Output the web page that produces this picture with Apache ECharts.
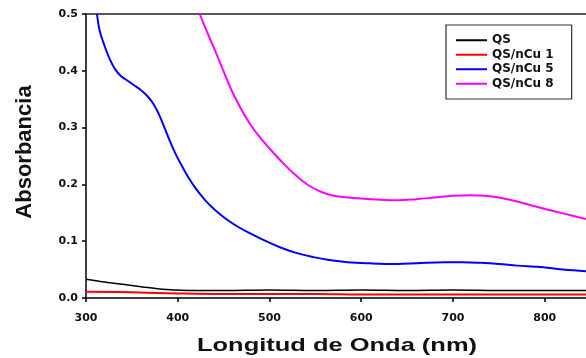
<!DOCTYPE html>
<html>
<head>
<meta charset="utf-8">
<script src="https://cdn.jsdelivr.net/npm/echarts@6/dist/echarts.min.js"></script>
<style>
  html, body { margin: 0; padding: 0; background: #fff; }
  #chart { width: 586px; height: 358px; }
</style>
</head>
<body>
<div id="chart"></div>
<script>
// Absorbancia vs longitud de onda (QS, QS/nCu)

const seriesNames = ['QS', 'QS/nCu 1', 'QS/nCu 5', 'QS/nCu 8'];
const xTicks = [300, 400, 500, 600, 700, 800];
const yTicks = [0.0, 0.1, 0.2, 0.3, 0.4, 0.5];

const qsNm  = [300, 320, 340, 360, 380, 400, 420, 450, 500, 550, 600, 650, 700, 750, 800, 845];
const qsAbs = [0.033, 0.028, 0.024, 0.020, 0.016, 0.014, 0.013, 0.013, 0.014, 0.013, 0.014, 0.013, 0.014, 0.013, 0.013, 0.013];

const cu1Nm  = [300, 350, 400, 450, 500, 550, 600, 650, 700, 750, 800, 845];
const cu1Abs = [0.011, 0.010, 0.008, 0.007, 0.007, 0.007, 0.006, 0.006, 0.006, 0.006, 0.006, 0.006];

const cu5Nm  = [312, 315, 320, 326, 332, 338, 345, 352, 359, 366, 373, 379, 385, 391, 397, 404, 411, 420, 430, 440, 452, 466, 480, 495, 512, 530, 548, 565, 585, 610, 639, 660, 690, 711, 730, 750, 770, 790, 805, 820, 845];
const cu5Abs = [0.500, 0.470, 0.445, 0.420, 0.402, 0.391, 0.383, 0.375, 0.367, 0.357, 0.343, 0.325, 0.302, 0.278, 0.256, 0.234, 0.214, 0.192, 0.172, 0.156, 0.140, 0.125, 0.113, 0.101, 0.089, 0.079, 0.072, 0.067, 0.063, 0.061, 0.060, 0.061, 0.063, 0.063, 0.062, 0.060, 0.057, 0.055, 0.053, 0.050, 0.047];

const cu8Nm  = [424, 431, 440, 449, 458, 468, 479, 491, 503, 515, 528, 542, 556, 570, 585, 600, 621, 639, 660, 680, 700, 719, 735, 750, 770, 790, 805, 820, 845];
const cu8Abs = [0.500, 0.472, 0.438, 0.403, 0.368, 0.336, 0.306, 0.280, 0.258, 0.237, 0.217, 0.199, 0.187, 0.180, 0.177, 0.175, 0.173, 0.172, 0.174, 0.177, 0.180, 0.181, 0.180, 0.177, 0.170, 0.161, 0.155, 0.149, 0.139];

const colors = ['#000000', '#ff0000', '#0000ff', '#ff00ff'];
const widths = [1.5, 2, 2, 2];

const zip = (xs, ys) => xs.map((x, i) => [x, ys[i]]);
const allData = [zip(qsNm, qsAbs), zip(cu1Nm, cu1Abs), zip(cu5Nm, cu5Abs), zip(cu8Nm, cu8Abs)];

const tickFont = { fontFamily: 'DejaVu Sans', fontWeight: 'bold', fontSize: 11, color: '#111' };

const chart = echarts.init(document.getElementById('chart'), null, { renderer: 'canvas' });
chart.setOption({
  animation: false,
  backgroundColor: '#fff',
  grid: { left: 86, right: 0, top: 14, bottom: 60 },
  legend: {
    data: seriesNames,
    orient: 'vertical',
    left: 446,
    top: 25,
    icon: 'rect',
    itemWidth: 31,
    itemHeight: 2,
    itemGap: 0,
    padding: [8, 18, 8, 10],
    borderColor: '#333',
    borderWidth: 1.2,
    selectedMode: false,
    textStyle: { fontFamily: 'DejaVu Sans', fontWeight: 'bold', fontSize: 12, lineHeight: 14.5, color: '#111' }
  },
  xAxis: [
    {
      type: 'value',
      min: xTicks[0],
      max: 845,
      interval: 100,
      axisLine: { show: true, onZero: false, lineStyle: { color: '#000', width: 1.5 } },
      axisTick: { show: true, length: 4, lineStyle: { color: '#000', width: 1.5 } },
      axisLabel: Object.assign({ margin: 15, showMaxLabel: false, showMinLabel: true }, tickFont),
      splitLine: { show: false }
    },
    {
      type: 'value',
      position: 'top',
      min: xTicks[0],
      max: 845,
      interval: 100,
      axisLine: { show: true, onZero: false, lineStyle: { color: '#222', width: 1.5 } },
      axisTick: { show: false },
      axisLabel: { show: false },
      splitLine: { show: false }
    }
  ],
  yAxis: {
    type: 'value',
    min: yTicks[0],
    max: yTicks[yTicks.length - 1],
    interval: 0.1,
    axisLine: { show: true, onZero: false, lineStyle: { color: '#000', width: 1.5 } },
    axisTick: { show: true, length: 4, lineStyle: { color: '#000', width: 1.5 } },
    axisLabel: Object.assign({ margin: 8, formatter: v => v.toFixed(1) }, tickFont),
    splitLine: { show: false }
  },
  graphic: [
    {
      type: 'text',
      x: 25,
      y: 152,
      rotation: Math.PI / 2,
      style: {
        text: 'Absorbancia',
        font: 'bold 22px "Liberation Sans", Arial, sans-serif',
        fill: '#111',
        textAlign: 'center',
        textVerticalAlign: 'middle'
      }
    },
    {
      type: 'text',
      x: 337,
      y: 346,
      scaleX: 1.34,
      style: {
        text: 'Longitud de Onda (nm)',
        font: 'bold 19px "Liberation Sans", Arial, sans-serif',
        fill: '#111',
        textAlign: 'center',
        textVerticalAlign: 'middle'
      }
    }
  ],
  series: seriesNames.map((name, i) => ({
    name: name,
    type: 'line',
    data: allData[i],
    symbol: 'none',
    showSymbol: false,
    smooth: 0.4,
    clip: true,
    color: colors[i],
    lineStyle: { color: colors[i], width: widths[i] },
    z: i + 2
  }))
});
</script>
</body>
</html>
